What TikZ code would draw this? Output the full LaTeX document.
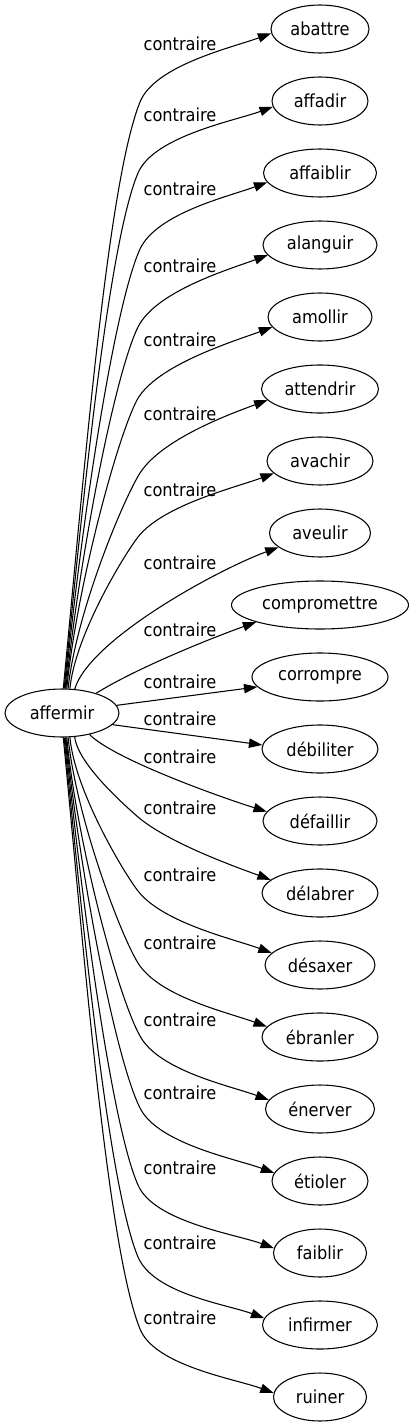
\documentclass[tikz,border=0pt]{standalone}
\usepackage{fontspec}
\setmainfont{DejaVu Sans}[FakeStretch=0.9]
\usetikzlibrary{shapes.geometric,arrows.meta}
\begin{document}
\begin{tikzpicture}[x=0.75pt,y=-0.75pt,
  every node/.style={font=\fontsize{13.5pt}{16pt}\selectfont},
  nd/.style={ellipse,draw,line width=0.8pt,inner sep=0pt,minimum height=36pt},
  lbl/.style={inner sep=0pt},
  edge/.style={line width=0.8pt,-{Triangle[length=10pt,width=7pt]}}]
\useasboundingbox (0,0) rectangle (413,1427);
\node[nd,minimum width=85.5pt] (src) at (62,713) {affermir};
\foreach \i/\txt/\y/\w in {
  1/abattre/29/73.5, 2/affadir/101/72, 3/affaiblir/173/84.75, 4/alanguir/245/85.5,
  5/amollir/317/78, 6/attendrir/389/87.75, 7/avachir/461/79.5, 8/aveulir/533/75.75,
  9/compromettre/605/132.75, 10/corrompre/677/102, 11/débiliter/749/87,
  12/défaillir/821/85.5, 13/délabrer/893/87, 14/désaxer/965/82.5,
  15/ébranler/1037/87, 16/énerver/1109/81.75, 17/étioler/1181/72,
  18/faiblir/1253/69.75, 19/infirmer/1325/86.25, 20/ruiner/1397/69.75}
  \node[nd,minimum width=\w pt] (t\i) at (320,\y) {\txt};
\foreach \i/\y in {1/44,2/115,3/189,4/266,5/340,6/414,7/490,8/563,9/630,10/682,
  11/719,12/757,13/808,14/875,15/943,16/1020,17/1093,18/1168,19/1243,20/1318}
  \node[lbl] (l\i) at (180,\y) {contraire};
\foreach \i/\a/\bx/\by/\cax/\cay/\cbx/\cby/\ccx/\ccy/\e/\cdx/\cdy in {
  1/87/140/102/20/-205/-33/82/15/-37/185/-38/14,
  2/85/138/173/18/-181/-30/71/16/-37/187/-38/14,
  3/83/140/249/15/-154/-27/60/17/-36/190/-38/14,
  4/81/138/327/13/-127/-24/49/18/-36/191/-38/14,
  5/79/137/400/10/-101/-20/38/19/-35/192/-38/14,
  6/76/140/473/8/-76/-17/27/22/-34/192/-38/14,
  7/72/138/537/5/-53/-14/18/25/-32/195/-38/14,
  13/298/138/817/3/28/-9/-8/31/26/165/-38/-14,
  14/288/138/891/5/54/-14/-18/25/32/166/-38/-14,
  15/284/138/963/8/79/-18/-29/21/34/169/-38/-14,
  16/281/140/1036/10/105/-22/-39/19/35/170/-38/-14,
  17/279/140/1108/13/130/-25/-50/18/36/170/-38/-14,
  18/277/138/1185/16/157/-27/-61/16/37/174/-38/-14,
  19/275/138/1257/18/182/-30/-72/16/37/173/-38/-14,
  20/273/140/1329/20/207/-33/-82/15/37/175/-38/-14}
  \draw[edge] (src.\a) .. controls +(\cax,\cay) and +(\cbx,\cby) .. (\bx,\by)
     .. controls +(\ccx,\ccy) and +(\cdx,\cdy) .. (t\i.\e);
\draw[edge] (src.62) .. controls +(15,-50) and +(-60,22) .. (t8.199);
\draw[edge] (src.30) .. controls +(40,-25) and +(-45,16) .. (t9.195);
\draw[edge] (src.8) -- (t10.189);
\draw[edge] (src.347) -- (t11.176);
\draw[edge] (src.322) .. controls +(25,25) and +(-45,-14) .. (t12.170);
\end{tikzpicture}
\end{document}
